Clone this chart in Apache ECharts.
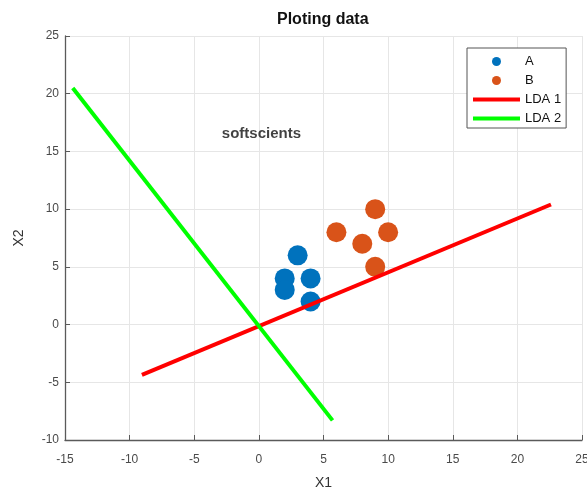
<!DOCTYPE html>
<html>
<head>
<meta charset="utf-8">
<script src="https://cdn.jsdelivr.net/npm/echarts@6/dist/echarts.min.js"></script>
<style>html,body{margin:0;padding:0;background:#fff}#c{width:587px;height:490px}</style>
</head>
<body>
<div id="c"></div>
<script>
var seriesA = [[2,4],[2,3],[3,6],[4,4],[4,2]];
var seriesB = [[6,8],[9,10],[10,8],[8,7],[9,5]];
var lda1 = [[-9.05,-4.35],[22.6,10.4]];
var lda2 = [[-14.4,20.5],[5.7,-8.3]];
var annotation = [[0.2,16.5]];
var annotationText = 'softscients';
var xTicks = {min:-15, max:25, interval:5};
var yTicks = {min:-10, max:25, interval:5};

var chart = echarts.init(document.getElementById('c'), null, {renderer:'canvas'});
var FONT = 'Liberation Sans, Arial, sans-serif';
var axisCommon = {
  axisLine:{show:true, onZero:false, lineStyle:{color:'#5a5a5a', width:1.3}},
  axisTick:{show:true, inside:true, length:5, lineStyle:{color:'#5a5a5a'}},
  axisLabel:{color:'#4a4a4a', fontSize:12, fontFamily:FONT},
  splitLine:{show:true, lineStyle:{color:'#e6e6e6', width:1}},
  nameLocation:'middle',
  nameTextStyle:{color:'#333', fontSize:14, fontFamily:FONT}
};
chart.setOption({
  animation:false,
  title:{text:'Ploting data', left:277, top:12, padding:0,
    textStyle:{fontSize:16, fontWeight:'bold', color:'#111', fontFamily:FONT}},
  grid:{left:65, right:5, top:36, bottom:50, containLabel:false, outerBoundsMode:'none'},
  legend:{
    orient:'vertical', left:467, top:48,
    data:[
      {name:'A', icon:'circle'},
      {name:'B', icon:'circle'},
      {name:'LDA 1', icon:'path://M0,0H47V4H0Z'},
      {name:'LDA 2', icon:'path://M0,0H47V4H0Z'}
    ],
    itemWidth:47, itemHeight:9, itemGap:6,
    padding:[7,5,3,6],
    backgroundColor:'#fff', borderColor:'#555', borderWidth:1, borderRadius:0,
    textStyle:{color:'#111', fontSize:13, fontFamily:FONT}
  },
  xAxis:Object.assign({type:'value', name:'X1', nameGap:36}, xTicks, axisCommon,
    {axisLabel:Object.assign({}, axisCommon.axisLabel, {margin:14})}),
  yAxis:Object.assign({type:'value', name:'X2', nameGap:39}, yTicks, axisCommon,
    {axisLabel:Object.assign({}, axisCommon.axisLabel, {margin:6})}),
  series:[
    {name:'A', type:'scatter', data:seriesA, symbol:'circle', symbolSize:20, itemStyle:{color:'#0072BD', opacity:1}},
    {name:'B', type:'scatter', data:seriesB, symbol:'circle', symbolSize:20, itemStyle:{color:'#D95319', opacity:1}},
    {name:'LDA 1', type:'line', data:lda1, showSymbol:false, symbol:'none', lineStyle:{color:'#ff0000', width:4}, itemStyle:{color:'#ff0000'}},
    {name:'LDA 2', type:'line', data:lda2, showSymbol:false, symbol:'none', lineStyle:{color:'#00ff00', width:4}, itemStyle:{color:'#00ff00'}},
    {name:'note', type:'scatter', data:annotation, symbolSize:1, itemStyle:{color:'rgba(0,0,0,0)'}, silent:true,
      label:{show:true, position:'inside', formatter:annotationText, color:'#111', fontSize:15, fontWeight:'bold', fontFamily:FONT}}
  ]
});
</script>
</body>
</html>
